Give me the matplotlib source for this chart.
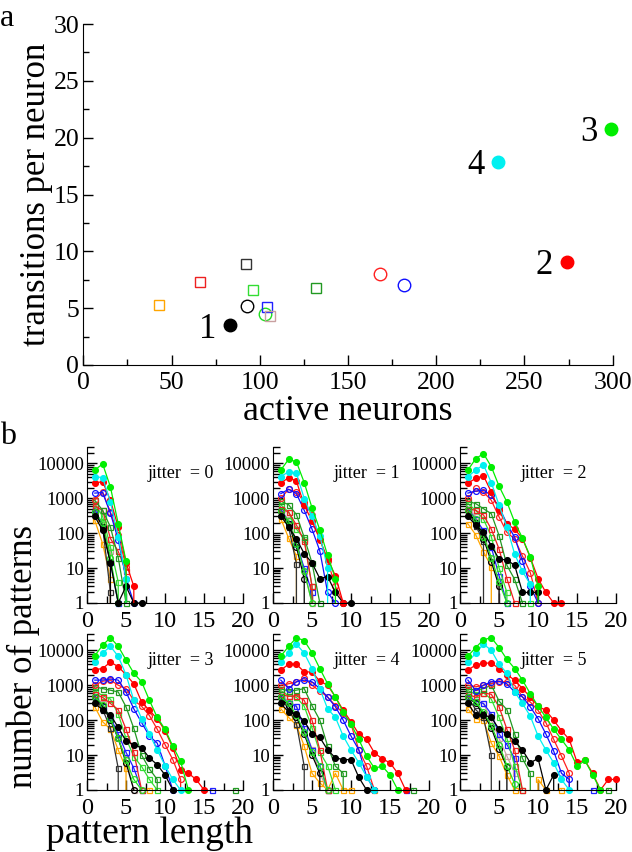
import matplotlib
matplotlib.use('Agg')
import matplotlib.pyplot as plt
import numpy as np
from matplotlib.ticker import MultipleLocator, LogLocator, NullFormatter, FixedLocator, FixedFormatter

plt.rcParams['font.family'] = ['Liberation Serif', 'DejaVu Serif']

# ---------------- panel a data ----------------
series_names = ['K', 'R', 'G', 'C', 'Ko', 'Go', 'Ro', 'Bo',
                'Os', 'Rs', 'Ks', 'LGs', 'Bs', 'Ps', 'DGs']
active_neurons = [83, 274, 299, 235, 93, 103, 168, 182, 43, 66, 92, 96, 104, 106, 132]
transitions = [3.5, 9.1, 20.8, 17.9, 5.2, 4.5, 8.0, 7.0, 5.3, 7.3, 8.9, 6.6, 5.1, 4.35, 6.75]
point_labels = {'K': '1', 'R': '2', 'G': '3', 'C': '4'}

# ---------------- panel b data (pattern counts for length 1,2,3,...) ----------------
jitters = [0, 1, 2, 3, 4, 5]

K = [[300, 120, 14, 1, 3, 1, 1],
     [310, 150, 68, 26, 14, 5, 5.7, 2, 1, 1],
     [300, 170, 105, 44, 18, 17, 12, 2, 2, 2, 0],
     [300, 200, 140, 62, 25, 20, 16, 8.3, 5.3, 2.7, 1],
     [300, 170, 150, 95, 40, 32, 14, 8.3, 7.4, 7.4, 2.3, 1],
     [300, 140, 140, 120, 55, 40, 25, 14, 6, 8, 1, 2.7, 0]]
R = [[2700, 3000, 870, 150, 14, 3, 0],
     [2700, 3900, 3100, 630, 220, 65, 18, 6, 1],
     [2700, 3700, 4400, 1500, 450, 185, 130, 70, 20, 5, 2, 1, 1],
     [2800, 3000, 4600, 3400, 2000, 1100, 330, 190, 110, 50, 16, 3.8, 3, 2, 1],
     [2700, 4000, 4000, 2400, 2400, 1300, 1000, 460, 190, 90, 40, 28, 11.6, 7.8, 6, 3, 1],
     [2700, 3800, 4300, 4300, 3000, 2000, 1400, 800, 460, 250, 190, 100, 50, 28, 6.2, 7, 3, 1, 2, 2]]
G = [[6400, 9600, 2100, 185, 16, 0],
     [6400, 13000, 11000, 2800, 530, 125, 23, 5, 0],
     [6400, 13500, 19000, 8000, 2200, 780, 205, 72, 21, 3, 0],
     [7000, 14000, 23000, 13000, 5300, 2200, 1250, 370, 120, 55, 18, 6.6, 1],
     [6800, 13000, 23000, 19000, 8500, 3000, 1100, 460, 170, 77, 28, 9.3, 4.2, 4.8, 2.7, 1],
     [6800, 12000, 20000, 23000, 12000, 5500, 3000, 1400, 570, 250, 120, 55, 28, 14, 4.8, 7, 2.7, 1]]
C = [[4100, 3900, 780, 80, 5, 0],
     [4100, 5800, 5200, 980, 300, 85, 10, 0],
     [4100, 6400, 9000, 2800, 630, 150, 25, 8, 3.4, 0],
     [4600, 8300, 13000, 6700, 2000, 370, 110, 40, 14, 5, 2, 1],
     [4600, 8300, 15000, 8300, 3000, 800, 210, 120, 35, 14, 6, 2.4, 1],
     [4600, 8300, 15000, 10000, 4000, 2200, 640, 300, 130, 35, 14, 6, 2, 1]]
Ko = [[400, 150, 15, 0],
      [420, 180, 40, 5, 0],
      [450, 200, 70, 15, 3, 0],
      [450, 250, 100, 30, 6, 1],
      [450, 250, 120, 40, 10, 3, 0],
      [450, 300, 150, 60, 15, 4.5, 0]]
Go = [[400, 200, 20, 1, 0],
      [420, 220, 50, 8, 1],
      [450, 250, 80, 20, 4, 1],
      [450, 280, 110, 30, 7, 2, 1],
      [450, 300, 140, 45, 12, 5, 1],
      [450, 330, 170, 70, 20, 5, 1.5, 0]]
Ro = [[900, 1500, 400, 90, 11, 0],
      [1000, 1800, 1500, 780, 320, 68, 16, 3, 1],
      [1000, 1900, 1500, 870, 290, 105, 68, 22, 7.4, 1],
      [1000, 1300, 1400, 1000, 800, 370, 250, 135, 55, 20, 7.4, 2, 0],
      [1000, 1100, 1250, 1600, 1000, 680, 460, 260, 160, 77, 14, 4.8, 1],
      [1000, 900, 1000, 1100, 1250, 1250, 1000, 460, 330, 190, 85, 28, 9.4, 3, 0]]
Bo = [[1400, 1450, 370, 65, 5, 1],
      [1350, 1800, 1350, 450, 130, 31, 2, 1],
      [1400, 1600, 1700, 1200, 560, 185, 76, 16, 3, 1],
      [1400, 1400, 1500, 1400, 640, 210, 85, 35, 22, 5, 1],
      [1400, 800, 1250, 1400, 1250, 800, 460, 240, 100, 35, 14, 2.4, 1],
      [1400, 700, 1000, 1250, 1300, 1100, 640, 460, 240, 110, 40, 13, 3, 2, 0]]
Os = [[230, 50, 5, 0],
      [260, 72, 22, 0],
      [185, 90, 29, 11, 0],
      [240, 90, 55, 14, 4.2, 0, 0, 1],
      [210, 120, 72, 18, 3, 1.6, 1, 3, 1, 1, 0, 0, 1],
      [210, 110, 100, 22, 9.4, 2.7, 1, 0, 0, 2, 1, 0, 1]]
Rs = [[600, 450, 70, 30, 8, 0],
      [500, 400, 170, 60, 3, 0],
      [500, 450, 330, 130, 35, 5, 1],
      [550, 450, 300, 200, 55, 12, 1],
      [550, 480, 500, 370, 100, 14, 1],
      [550, 450, 600, 550, 240, 55, 14, 1]]
Ks = [[450, 150, 2, 0],
      [450, 150, 13, 0],
      [450, 160, 60, 0],
      [450, 200, 60, 4.2, 0],
      [450, 200, 80, 4.8, 0],
      [450, 200, 120, 10, 0]]
LGs = [[700, 300, 40, 4, 0],
       [650, 400, 130, 68, 3, 0],
       [700, 450, 250, 80, 10, 2, 0, 0, 1],
       [700, 500, 400, 150, 30, 9, 4.7, 2, 1],
       [700, 500, 450, 250, 60, 12, 5, 1],
       [700, 550, 600, 400, 120, 30, 5, 1]]
Bs = [[500, 150, 15, 1, 0],
      [500, 200, 50, 10, 2, 0],
      [500, 250, 120, 40, 6, 1],
      [500, 250, 120, 40, 12, 4.2, 1, 0, 0, 0, 0, 0, 0, 0, 0, 1],
      [500, 300, 250, 60, 14, 5, 1, 0, 0, 0, 0, 0, 0, 0, 0, 0, 1],
      [500, 350, 300, 150, 40, 20, 8, 0, 0, 0, 0, 0, 0, 0, 0, 0, 1]]
Ps = [[450, 180, 30, 0],
      [450, 250, 60, 8, 1],
      [500, 300, 90, 20, 3, 0],
      [500, 300, 110, 30, 8, 1],
      [500, 350, 250, 60, 15, 3, 1],
      [450, 350, 300, 100, 30, 9.4, 3, 0]]
DGs = [[870, 450, 150, 20, 1],
       [820, 650, 340, 75, 14, 1],
       [820, 700, 500, 360, 85, 12, 4.7, 1],
       [900, 800, 720, 640, 240, 58, 10, 4, 2, 0, 0, 0, 0, 0, 0, 0, 0, 0, 1],
       [800, 680, 720, 800, 260, 100, 18, 4.8, 3, 0, 0, 0, 0, 0, 0, 0, 0, 1],
       [800, 720, 800, 1000, 350, 200, 40, 8, 3, 0, 0, 0, 0, 0, 0, 0, 0, 0, 1]]

counts = {'K': K, 'R': R, 'G': G, 'C': C, 'Ko': Ko, 'Go': Go, 'Ro': Ro, 'Bo': Bo,
          'Os': Os, 'Rs': Rs, 'Ks': Ks, 'LGs': LGs, 'Bs': Bs, 'Ps': Ps, 'DGs': DGs}

# ---------------- styles ----------------
styles = {
    'K':   ('black',   'o', True),
    'R':   ('#ff0000', 'o', True),
    'G':   ('#00ee00', 'o', True),
    'C':   ('#00f0f0', 'o', True),
    'Ko':  ('black',   'o', False),
    'Go':  ('#22dd22', 'o', False),
    'Ro':  ('#ff2020', 'o', False),
    'Bo':  ('#1010ff', 'o', False),
    'Os':  ('#ffa500', 's', False),
    'Rs':  ('#ee2020', 's', False),
    'Ks':  ('#333333', 's', False),
    'LGs': ('#33dd33', 's', False),
    'Bs':  ('#2020ff', 's', False),
    'Ps':  ('#c9a0a0', 's', False),
    'DGs': ('#229922', 's', False),
}

fig = plt.figure(figsize=(6.32, 8.52), dpi=100)

# ---------------- panel a ----------------
axa = fig.add_axes([0.1318, 0.5716, 0.8377, 0.4002])
for name, xv, yv in zip(series_names, active_neurons, transitions):
    col, mk, filled = styles[name]
    ms = 9 if mk == 'o' else 7.5
    axa.plot([xv], [yv], linestyle='none', marker=mk, markersize=ms,
             markerfacecolor=col if filled else 'none', markeredgecolor=col,
             markeredgewidth=1.0, clip_on=False)
    if name in point_labels:
        axa.annotate(point_labels[name], (xv, yv), xytext=(-16, -3),
                     textcoords='offset points', ha='center', va='center', fontsize=25)
axa.set_xlim(0, 300)
axa.set_ylim(0, 30)
axa.xaxis.set_major_locator(MultipleLocator(50))
axa.xaxis.set_minor_locator(MultipleLocator(25))
axa.yaxis.set_major_locator(MultipleLocator(5))
axa.yaxis.set_minor_locator(MultipleLocator(2.5))
axa.tick_params(which='both', direction='in', labelsize=18.5, width=1)
axa.tick_params(which='major', length=7)
axa.tick_params(which='minor', length=4)
axa.tick_params(axis='x', pad=5)
axa.tick_params(axis='y', pad=3)
axa.spines['top'].set_visible(False)
axa.spines['right'].set_visible(False)
axa.set_xlabel('active neurons', fontsize=26, labelpad=1)
axa.set_ylabel('transitions per neuron', fontsize=25, labelpad=0)
fig.text(0.0, 0.995, 'a', fontsize=23, ha='left', va='top')

# ---------------- panel b ----------------
lefts = [0.1377, 0.432, 0.728]
bottoms = [0.2923, 0.0728]
w, h = 0.2468, 0.1835
draw_order = ['Os', 'Ks', 'Ps', 'Bs', 'LGs', 'Rs', 'DGs', 'Ko', 'Go', 'Ro', 'Bo',
              'K', 'R', 'C', 'G']
for j in jitters:
    r, c = divmod(j, 3)
    ax = fig.add_axes([lefts[c], bottoms[r], w, h])
    for name in draw_order:
        col, mk, filled = styles[name]
        vals = np.array(counts[name][j], dtype=float)
        L = np.arange(1, len(vals) + 1)
        ax.plot(L, vals, '-', color=col, linewidth=0.9)
        pos = vals > 0
        ms = 4.2 if mk == 'o' else 3.6
        ax.plot(L[pos], vals[pos], linestyle='none', marker=mk, markersize=ms,
                markerfacecolor=col if filled else 'none', markeredgecolor=col,
                markeredgewidth=0.9, clip_on=False)
    ax.set_yscale('log', nonpositive='clip')
    ax.set_ylim(1, 30000)
    ax.set_xlim(0, 20)
    ax.yaxis.set_major_locator(FixedLocator([1, 10, 100, 1000, 10000]))
    ax.yaxis.set_major_formatter(FixedFormatter(['1', '10', '100', '1000', '10000']))
    ax.yaxis.set_minor_locator(LogLocator(base=10, subs=np.arange(2, 10), numticks=20))
    ax.yaxis.set_minor_formatter(NullFormatter())
    ax.xaxis.set_major_locator(MultipleLocator(5))
    ax.xaxis.set_minor_locator(MultipleLocator(2.5))
    ax.tick_params(which='both', direction='in', width=1)
    ax.tick_params(which='major', length=7)
    ax.tick_params(which='minor', length=5)
    ax.tick_params(axis='y', labelsize=13.5, pad=2)
    ax.tick_params(axis='x', labelsize=17.5, pad=6)
    ax.spines['top'].set_visible(False)
    ax.spines['right'].set_visible(False)
    ax.text(0.39, 0.826, 'jitter  = %d' % j, transform=ax.transAxes,
            fontsize=13, ha='left', va='center')

fig.text(0.0, 0.488, 'b', fontsize=23, ha='left', va='center')
fig.text(0.036, 0.229, 'number of patterns', fontsize=25, rotation=90,
         ha='center', va='center')
fig.text(0.236, 0.001, 'pattern length', fontsize=27, ha='center', va='bottom')

fig.savefig('out.png', dpi=100)
